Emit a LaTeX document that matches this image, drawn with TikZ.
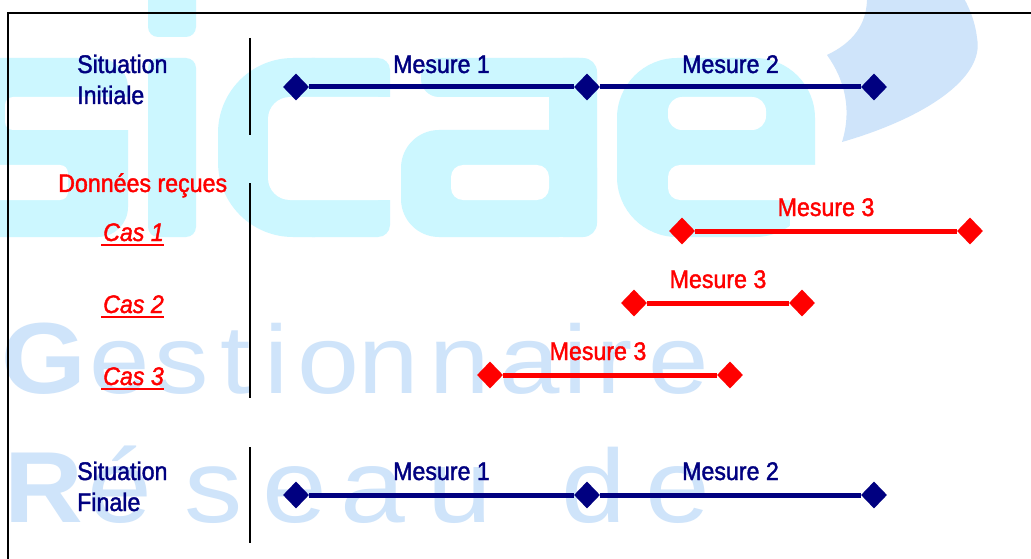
\documentclass[tikz,border=0pt]{standalone}
\usepackage{fontspec}
\setmainfont{Liberation Sans}[FakeStretch=0.91,FakeBold=1.5]
\newfontfamily\wmfont{Liberation Sans}
\usetikzlibrary{shapes.geometric}
\definecolor{navy}{RGB}{0,0,128}
\definecolor{mred}{RGB}{255,0,0}
\definecolor{wmcyan}{RGB}{204,247,255}
\definecolor{wmblue}{RGB}{207,228,250}
\begin{document}
\begin{tikzpicture}[x=1pt,y=-1pt,
  lbl/.style={inner sep=0pt, anchor=base west, font=\fontsize{25.5}{31}\selectfont},
  navylbl/.style={lbl, text=navy},
  redlbl/.style={lbl, text=mred},
  caslbl/.style={redlbl, font=\fontsize{25.5}{31}\selectfont\itshape},
  dnavy/.style={diamond, fill=navy, inner sep=0pt, minimum width=26pt, minimum height=27pt},
  dred/.style={diamond, fill=mred, inner sep=0pt, minimum width=26pt, minimum height=27pt},
  segnavy/.style={draw=navy, line width=5pt},
  segred/.style={draw=mred, line width=5pt},
  sepline/.style={draw=black, line width=1.6pt},
  uline/.style={draw=mred, line width=2.5pt},
  wm/.style={inner sep=0pt, anchor=base, text=wmblue},
  wmreg/.style={wm, font=\wmfont\fontsize{97}{97}\selectfont},
  wmregb/.style={wm, font=\wmfont\fontsize{104}{104}\selectfont},
  wmbold/.style={wm, font=\wmfont\bfseries\fontsize{101}{101}\selectfont},
]
\useasboundingbox (0,0) rectangle (1031,559);
\fill[white] (0,0) rectangle (1031,559);

% ---------- watermark ----------
\begin{scope}
\clip (0,0) rectangle (1031,559);
% s
\fill[wmcyan, rounded corners=30] (-60,58) rectangle (128,237);
% i
\fill[wmcyan, rounded corners=10] (148,58) rectangle (196,237);
\fill[wmcyan, rounded corners=10] (148,-30) rectangle (196,37);
% c
\fill[wmcyan, rounded corners=75] (218,58) rectangle (390,237);
\fill[wmcyan, rounded corners=12] (300,58) rectangle (390,237);
% a
\fill[wmcyan, rounded corners=18] (421,58) rectangle (597,97);
\fill[wmcyan, rounded corners=14] (549,58) rectangle (597,237);
\fill[wmcyan, rounded corners=38] (401,130) rectangle (597,237);
% e
\fill[wmcyan, rounded corners=60] (617,58) rectangle (815,237);
% counters
\fill[white, rounded corners=8] (5,97) rectangle (140,130);
\fill[white, rounded corners=8] (-70,165) rectangle (68,200);
\fill[white, rounded corners=22] (268,97) rectangle (400,200);
\fill[white] (330,97) rectangle (400,200);
\fill[white, rounded corners=12] (451,165) rectangle (549,200);
\fill[white, rounded corners=14] (668,97) rectangle (766,130);
\fill[white, rounded corners=12] (668,165) rectangle (830,200);
\fill[white] (720,165) rectangle (830,200);
\fill[white] (790,200) rectangle (830,245);
% swoosh
\fill[wmblue] (867,-5) .. controls (868,25) and (852,43) .. (827,55)
  .. controls (845,80) and (852,110) .. (842,142)
  .. controls (925,118) and (985,78) .. (977,38)
  .. controls (975,20) and (968,5) .. (962,-5) -- cycle;
% Gestionnaire
\node[wmbold] (gG) at (43.5,393) {\scalebox{1.08}[1]{G}};
\node[wmreg] (g1) at (120,393) {\scalebox{1.12}[1]{e}};
\node[wmreg] (g2) at (182,393) {\scalebox{1.12}[1]{s}};
\node[wmreg] (g3) at (236,393) {\scalebox{1.12}[1]{t}};
\node[wmreg] (g4) at (276.5,393) {\scalebox{1.12}[1]{i}};
\node[wmreg] (g5) at (329,393) {\scalebox{1.15}[1]{o}};
\node[wmreg] (g6) at (389,393) {\scalebox{1.12}[1]{n}};
\node[wmreg] (g7) at (460,393) {\scalebox{1.12}[1]{n}};
\node[wmreg] (g8) at (529.5,393) {\scalebox{1.12}[1]{a}};
\node[wmreg] (g9) at (575.5,393) {\scalebox{1.12}[1]{i}};
\node[wmreg] (g10) at (615,393) {\scalebox{1.12}[1]{r}};
\node[wmreg] (g11) at (678.5,393) {\scalebox{1.12}[1]{e}};
% Reseau de
\node[wmbold] (rR) at (44,522) {\scalebox{1.08}[1]{R}};
\node[wmregb] (r1) at (120,522) {\scalebox{1.12}[1]{é}};
\node[wmregb] (r2) at (214,522) {\scalebox{1.12}[1]{s}};
\node[wmregb] (r3) at (295,522) {\scalebox{1.12}[1]{e}};
\node[wmregb] (r4) at (373,522) {\scalebox{1.12}[1]{a}};
\node[wmregb] (r5) at (460,522) {\scalebox{1.12}[1]{u}};
\node[wmregb] (r6) at (593.5,522) {\scalebox{1.12}[1]{d}};
\node[wmregb] (r7) at (678,522) {\scalebox{1.12}[1]{e}};
\end{scope}

% ---------- frame ----------
\draw[black, line width=2pt] (8,565) -- (8,13) -- (1040,13);

% separators
\draw[sepline] (250,38) -- (250,135);
\draw[sepline] (250,183) -- (250,398);
\draw[sepline] (250,447) -- (250,543);

% ---------- Situation initiale ----------
\node[navylbl] (si1) at (77,73) {Situation};
\node[navylbl] (si2) at (77,104) {Initiale};
\node[dnavy] (a1) at (296,87) {};
\node[dnavy] (a2) at (587,87) {};
\node[dnavy] (a3) at (874,87) {};
\draw[segnavy] (a1) -- (a2);
\draw[segnavy] (a2) -- (a3);
\node[navylbl, anchor=base] (am1) at (441.5,73) {Mesure 1};
\node[navylbl, anchor=base] (am2) at (730.5,73) {Mesure 2};

% ---------- Donnees recues ----------
\node[redlbl] (dr) at (58,192) {Données reçues};

\node[caslbl] (c1) at (103,241) {Cas 1};
\draw[uline] ([yshift=-4pt,xshift=-2pt]c1.base west) -- ([yshift=-4pt]c1.base east);
\node[dred] (b1) at (682,231) {};
\node[dred] (b2) at (970,231) {};
\draw[segred] (b1) -- (b2);
\node[redlbl, anchor=base] (bm) at (826,216) {Mesure 3};

\node[caslbl] (c2) at (103,313) {Cas 2};
\draw[uline] ([yshift=-4pt,xshift=-2pt]c2.base west) -- ([yshift=-4pt]c2.base east);
\node[dred] (d1) at (634,303) {};
\node[dred] (d2) at (802,303) {};
\draw[segred] (d1) -- (d2);
\node[redlbl, anchor=base] (dm) at (718,288) {Mesure 3};

\node[caslbl] (c3) at (103,385) {Cas 3};
\draw[uline] ([yshift=-4pt,xshift=-2pt]c3.base west) -- ([yshift=-4pt]c3.base east);
\node[dred] (e1) at (490,375) {};
\node[dred] (e2) at (730,375) {};
\draw[segred] (e1) -- (e2);
\node[redlbl, anchor=base] (em) at (598,360) {Mesure 3};

% ---------- Situation finale ----------
\node[navylbl] (sf1) at (77,480) {Situation};
\node[navylbl] (sf2) at (77,511) {Finale};
\node[dnavy] (f1) at (296,495) {};
\node[dnavy] (f2) at (587,495) {};
\node[dnavy] (f3) at (874,495) {};
\draw[segnavy] (f1) -- (f2);
\draw[segnavy] (f2) -- (f3);
\node[navylbl, anchor=base] (fm1) at (441.5,480) {Mesure 1};
\node[navylbl, anchor=base] (fm2) at (730.5,480) {Mesure 2};
\end{tikzpicture}
\end{document}
